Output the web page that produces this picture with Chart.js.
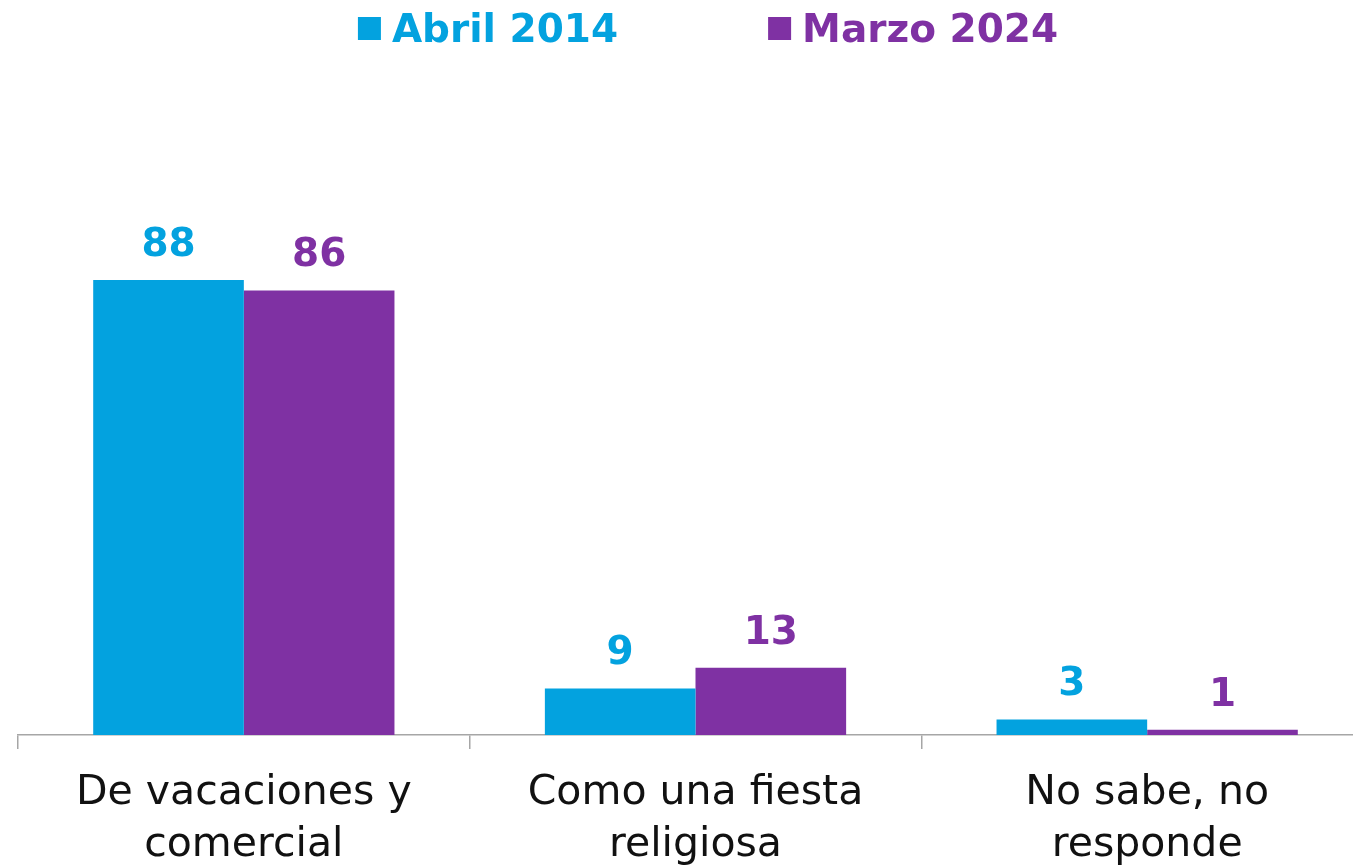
<!DOCTYPE html>
<html>
<head>
<meta charset="utf-8">
<script src="https://cdn.jsdelivr.net/npm/chart.js@4.4.1/dist/chart.umd.min.js"></script>
<style>
  html, body { margin: 0; padding: 0; background: #ffffff; overflow: hidden; }
  #wrap { width: 1373px; height: 865px; }
</style>
</head>
<body>
<div id="wrap"><canvas id="c" width="1373" height="865"></canvas></div>
<script>
const categories = [["De vacaciones y", "comercial"], ["Como una fiesta", "religiosa"], ["No sabe, no", "responde"]];
const seriesNames = ["Abril 2014", "Marzo 2024"];
const abril2014 = [88, 9, 3];
const marzo2024 = [86, 13, 1];
const seriesColors = ["#03A2DF", "#7F31A3"];

const LBL_FONT = "'DejaVu Sans', sans-serif";

const valueLabels = {
  id: 'valueLabels',
  afterDatasetsDraw(chart) {
    const ctx = chart.ctx;
    ctx.save();
    ctx.font = "bold 39px " + LBL_FONT;
    ctx.textAlign = 'center';
    ctx.textBaseline = 'alphabetic';
    chart.data.datasets.forEach((ds, di) => {
      const meta = chart.getDatasetMeta(di);
      meta.data.forEach((bar, i) => {
        ctx.fillStyle = ds.backgroundColor;
        ctx.fillText(String(ds.data[i]), bar.x, bar.y - 24);
      });
    });
    ctx.restore();
  }
};

const topLegend = {
  id: 'topLegend',
  afterDraw(chart) {
    const ctx = chart.ctx;
    ctx.save();
    ctx.font = "bold 39px " + LBL_FONT;
    ctx.textBaseline = 'alphabetic';
    const box = 23, gapText = 11, gapItems = 150;
    const widths = chart.data.datasets.map(ds => box + gapText + ctx.measureText(ds.label).width);
    const total = widths.reduce((a, b) => a + b, 0) + gapItems * (widths.length - 1);
    let x = 708 - total / 2;
    chart.data.datasets.forEach((ds, di) => {
      ctx.fillStyle = ds.backgroundColor;
      ctx.fillRect(x, 17, box, box);
      ctx.fillText(ds.label, x + box + gapText, 42);
      x += widths[di] + gapItems;
    });
    ctx.restore();
  }
};

new Chart(document.getElementById('c'), {
  type: 'bar',
  data: {
    labels: categories,
    datasets: [
      { label: seriesNames[0], data: abril2014, backgroundColor: seriesColors[0] },
      { label: seriesNames[1], data: marzo2024, backgroundColor: seriesColors[1] }
    ]
  },
  options: {
    responsive: false,
    animation: false,
    layout: { padding: { top: 218, left: 18, right: 0, bottom: 0 } },
    datasets: { bar: { categoryPercentage: 0.667, barPercentage: 1.0 } },
    plugins: { legend: { display: false }, tooltip: { enabled: false } },
    scales: {
      x: {
        afterFit(scale) { scale.height = 130; },
        grid: { display: true, drawOnChartArea: false, drawTicks: true, tickLength: 14, offset: true, color: '#A6A6A6', lineWidth: 1.5 },
        border: { display: true, color: '#A6A6A6', width: 1.5 },
        ticks: { color: '#111111', font: { family: LBL_FONT, size: 41, lineHeight: 1.25 }, padding: 19, maxRotation: 0, autoSkip: false }
      },
      y: {
        display: false,
        min: 0,
        max: 100
      }
    }
  },
  plugins: [valueLabels, topLegend]
});
</script>
</body>
</html>
